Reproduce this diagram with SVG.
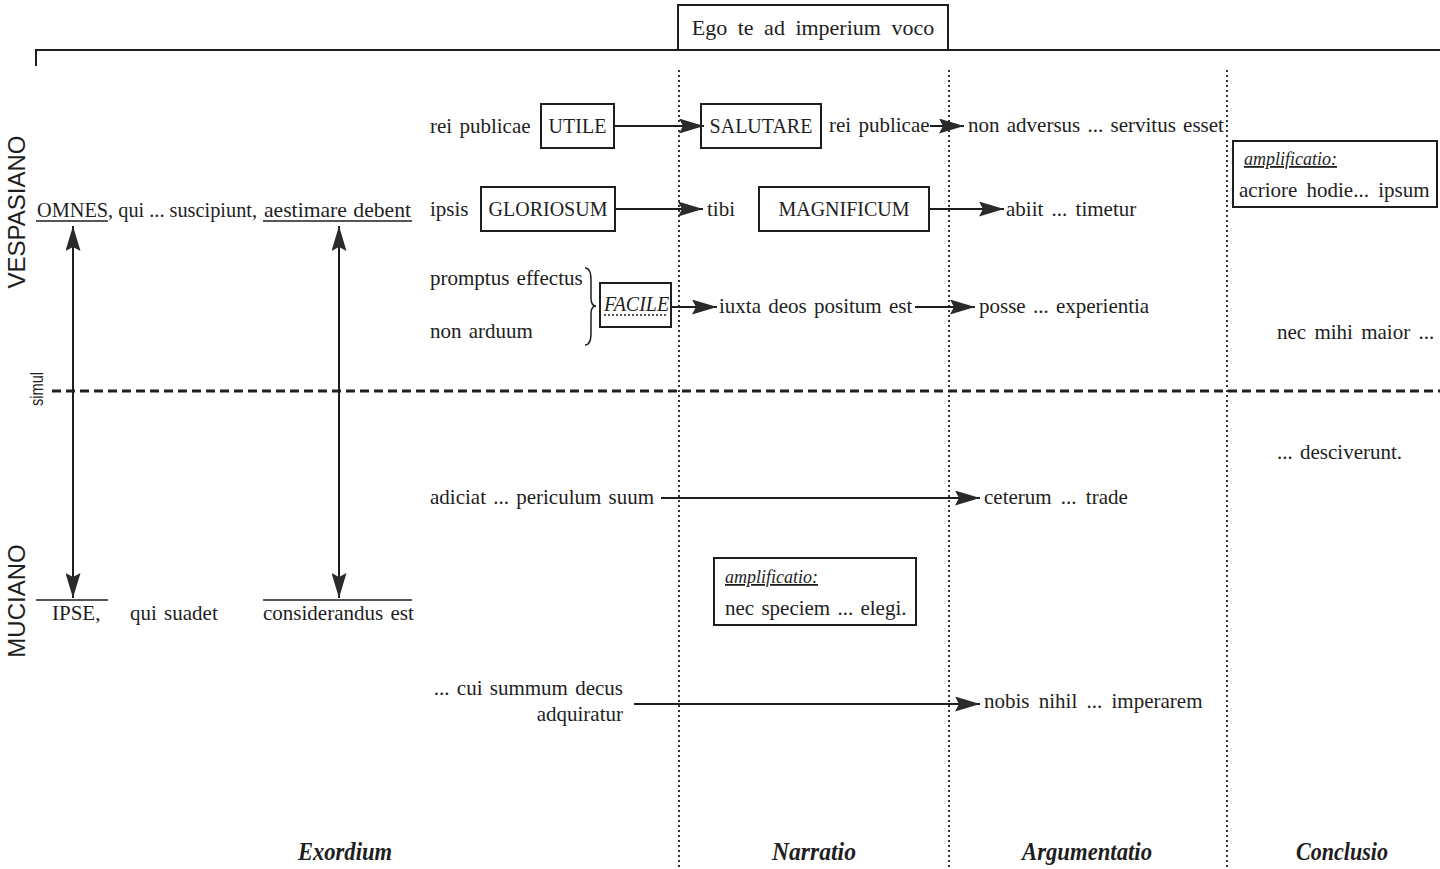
<svg xmlns="http://www.w3.org/2000/svg" width="1440" height="869" viewBox="0 0 1440 869">
<style>
text{font-family:"Liberation Serif","Times New Roman",serif;font-size:21px;fill:#1e1e1e;word-spacing:2px}
.cap{font-size:20px}
.it{font-style:italic}
.amp{font-style:italic;font-size:18px;text-decoration:underline}
.sans{font-family:"Liberation Sans",Arial,sans-serif;font-size:24px;word-spacing:0}
.sec{font-style:italic;font-weight:bold;font-size:26px}
.box{fill:none;stroke:#1e1e1e;stroke-width:2}
.ln{stroke:#1e1e1e;stroke-width:2;fill:none}
.ul{stroke:#1e1e1e;stroke-width:1.5}
.dot{stroke:#333;stroke-width:2;stroke-dasharray:2 3}
.arr{stroke:#1e1e1e;stroke-width:2;fill:none;marker-end:url(#ah)}
.arr2{stroke:#1e1e1e;stroke-width:2;fill:none;marker-end:url(#ah);marker-start:url(#ah)}
</style>
<defs>
<marker id="ah" viewBox="0 0 25 15" refX="25" refY="7.5" markerWidth="25" markerHeight="15" markerUnits="userSpaceOnUse" orient="auto-start-reverse">
<path d="M0,0 L25,7.5 L0,15 L4,7.5 Z" fill="#2a2a2a"/>
</marker>
</defs>
<rect width="1440" height="869" fill="#fff"/>

<g id="frame">
<path class="ln" d="M36,66 V50 H1440"/>
<line class="dot" x1="679" y1="70" x2="679" y2="869"/>
<line class="dot" x1="949" y1="70" x2="949" y2="869"/>
<line class="dot" x1="1227" y1="70" x2="1227" y2="869"/>
<line x1="52" y1="391" x2="1440" y2="391" stroke="#1e1e1e" stroke-width="3" stroke-dasharray="9 5"/>
</g>

<g id="title">
<rect class="box" x="678" y="5" width="270" height="45"/>
<text x="813" y="35" text-anchor="middle" style="font-size:22px;word-spacing:5px">Ego te ad imperium voco</text>
</g>

<g id="labels-side">
<text class="sans" transform="translate(25,212) rotate(-90)" text-anchor="middle">VESPASIANO</text>
<text class="sans" transform="translate(25,601) rotate(-90)" text-anchor="middle">MUCIANO</text>
<text class="sans" style="font-size:18px" transform="translate(43,389) rotate(-90)" text-anchor="middle" textLength="34" lengthAdjust="spacingAndGlyphs">simul</text>
</g>

<g id="omnes">
<text x="37" y="217" style="word-spacing:0" textLength="220" lengthAdjust="spacingAndGlyphs">OMNES, qui ... suscipiunt,</text>
<text x="264" y="217" style="word-spacing:1px" textLength="147" lengthAdjust="spacingAndGlyphs">aestimare debent</text>
<line class="ul" x1="36" y1="221" x2="108" y2="221"/>
<line class="ul" x1="263" y1="221" x2="412" y2="221"/>
</g>

<g id="ipse">
<line class="ul" x1="36" y1="600" x2="108" y2="600"/>
<line class="ul" x1="263" y1="600" x2="412" y2="600"/>
<text x="52" y="620">IPSE,</text>
<text x="130" y="620">qui suadet</text>
<text x="263" y="620">considerandus est</text>
</g>

<g id="row1">
<text x="430" y="133">rei publicae</text>
<g id="utile"><rect class="box" x="541" y="104" width="73" height="44"/><text class="cap" x="577.5" y="133" text-anchor="middle">UTILE</text></g>
<g id="salutare"><rect class="box" x="701" y="104" width="120" height="44"/><text class="cap" x="761" y="133" text-anchor="middle">SALUTARE</text></g>
<text x="829" y="132">rei publicae</text>
<text x="968" y="132">non adversus ... servitus esset</text>
</g>

<g id="row2">
<text x="430" y="216">ipsis</text>
<g id="gloriosum"><rect class="box" x="481" y="187" width="134" height="44"/><text class="cap" x="548" y="216" text-anchor="middle">GLORIOSUM</text></g>
<text x="707" y="216">tibi</text>
<g id="magnificum"><rect class="box" x="759" y="187" width="170" height="44"/><text class="cap" x="844" y="216" text-anchor="middle">MAGNIFICUM</text></g>
<text x="1006" y="216" style="word-spacing:3px">abiit ... timetur</text>
</g>

<g id="row3">
<text x="430" y="285">promptus effectus</text>
<text x="430" y="338">non arduum</text>
<path class="ul" fill="none" d="M585,268 Q591,268 591,280 L591,298 Q591,306 596,306 Q591,306 591,314 L591,333 Q591,345 585,345"/>
<g id="facile"><rect class="box" x="600" y="283" width="71" height="44"/><text class="cap it" x="604" y="311">FACILE</text><line x1="604" y1="315" x2="668" y2="315" stroke="#1e1e1e" stroke-width="1.5" stroke-dasharray="2 2"/></g>
<text x="719" y="313">iuxta deos positum est</text>
<text x="979" y="313">posse ... experientia</text>
</g>

<g id="amp-conclusio">
<rect class="box" x="1233" y="141" width="204" height="66"/>
<text class="amp" x="1244" y="165">amplificatio:</text>
<text x="1239" y="197" style="word-spacing:4px">acriore hodie... ipsum</text>
</g>

<g id="conclusio-texts">
<text x="1277" y="339" style="word-spacing:3px">nec mihi maior ...</text>
<text x="1277" y="459">... desciverunt.</text>
</g>

<g id="row4">
<text x="430" y="504">adiciat ... periculum suum</text>
<text x="984" y="504" style="word-spacing:4px">ceterum ... trade</text>
</g>

<g id="amp-narratio">
<rect class="box" x="714" y="558" width="202" height="67"/>
<text class="amp" x="725" y="583">amplificatio:</text>
<text x="725" y="615">nec speciem ... elegi.</text>
</g>

<g id="row5">
<text x="623" y="695" text-anchor="end">... cui summum decus</text>
<text x="623" y="721" text-anchor="end">adquiratur</text>
<text x="984" y="708" style="word-spacing:4px">nobis nihil ... imperarem</text>
</g>

<g id="connectors">
<line class="arr" x1="614" y1="126" x2="704" y2="126"/>
<line class="arr" x1="930" y1="126" x2="964" y2="126"/>
<line class="arr" x1="615" y1="209" x2="703" y2="209"/>
<line class="arr" x1="929" y1="209" x2="1004" y2="209"/>
<line class="arr" x1="671" y1="307" x2="717" y2="307"/>
<line class="arr" x1="915" y1="307" x2="975" y2="307"/>
<line class="arr" x1="661" y1="498" x2="980" y2="498"/>
<line class="arr" x1="634" y1="704" x2="980" y2="704"/>
<line class="arr2" x1="73" y1="226" x2="73" y2="598"/>
<line class="arr2" x1="339" y1="226" x2="339" y2="598"/>
</g>

<g id="sections">
<text class="sec" x="298" y="860" textLength="94" lengthAdjust="spacingAndGlyphs">Exordium</text>
<text class="sec" x="772" y="860" textLength="84" lengthAdjust="spacingAndGlyphs">Narratio</text>
<text class="sec" x="1022" y="860" textLength="130" lengthAdjust="spacingAndGlyphs">Argumentatio</text>
<text class="sec" x="1296" y="860" textLength="92" lengthAdjust="spacingAndGlyphs">Conclusio</text>
</g>
</svg>
